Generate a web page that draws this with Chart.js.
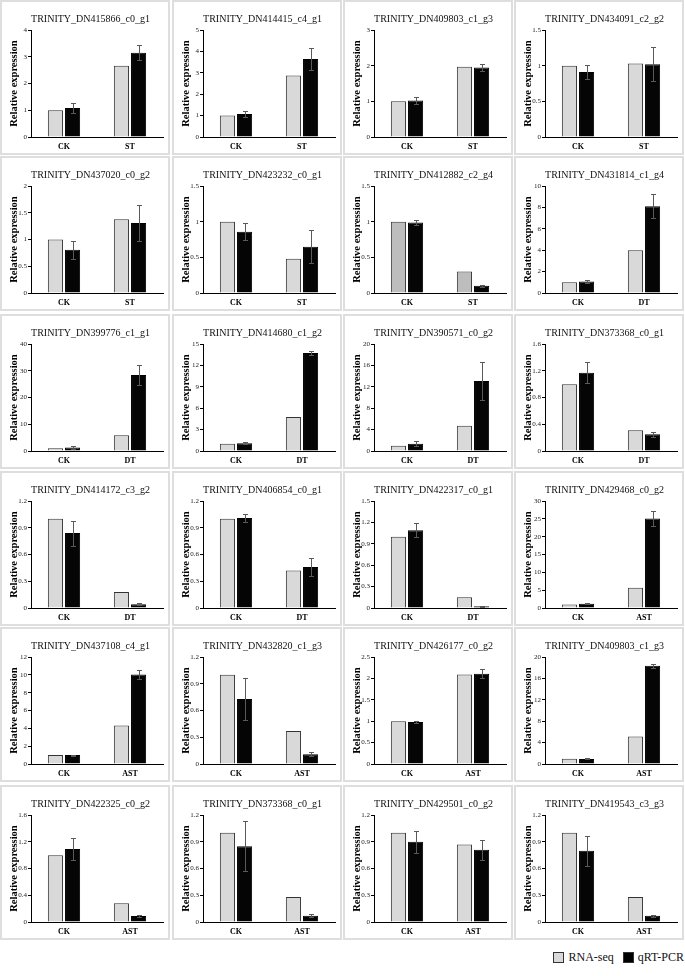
<!DOCTYPE html>
<html>
<head>
<meta charset="utf-8">
<script src="https://cdn.jsdelivr.net/npm/chart.js@4.4.0/dist/chart.umd.min.js"></script>
<style>
body { margin: 0; background: #fff; width: 685px; height: 976px; position: relative; font-family: "Liberation Serif", serif; }
.panel { position: absolute; width: 170px; height: 155px; box-sizing: border-box; border: 2px solid #dedede; }
.panel canvas { display: block; }
.legend { position: absolute; top: 950px; right: 1px; display: flex; align-items: center; font-size: 12px; color: #111; }
.legend span.box { display: inline-block; width: 9px; height: 9px; border: 1px solid #333; margin-right: 4px; }
.legend span.txt { margin-right: 9px; }
</style>
</head>
<body>
<div class="legend">
  <span class="box" style="background:#d9d9d9"></span><span class="txt">RNA-seq</span>
  <span class="box" style="background:#000"></span><span class="txt" style="margin-right:0">qRT-PCR</span>
</div>
<script>
const titles = [
  "TRINITY_DN415866_c0_g1", "TRINITY_DN414415_c4_g1", "TRINITY_DN409803_c1_g3", "TRINITY_DN434091_c2_g2",
  "TRINITY_DN437020_c0_g2", "TRINITY_DN423232_c0_g1", "TRINITY_DN412882_c2_g4", "TRINITY_DN431814_c1_g4",
  "TRINITY_DN399776_c1_g1", "TRINITY_DN414680_c1_g2", "TRINITY_DN390571_c0_g2", "TRINITY_DN373368_c0_g1",
  "TRINITY_DN414172_c3_g2", "TRINITY_DN406854_c0_g1", "TRINITY_DN422317_c0_g1", "TRINITY_DN429468_c0_g2",
  "TRINITY_DN437108_c4_g1", "TRINITY_DN432820_c1_g3", "TRINITY_DN426177_c0_g2", "TRINITY_DN409803_c1_g3",
  "TRINITY_DN422325_c0_g2", "TRINITY_DN373368_c0_g1", "TRINITY_DN429501_c0_g2", "TRINITY_DN419543_c3_g3"
];
const treatments = [
  "ST", "ST", "ST", "ST", "ST", "ST", "ST", "DT",
  "DT", "DT", "DT", "DT", "DT", "DT", "DT", "AST",
  "AST", "AST", "AST", "AST", "AST", "AST", "AST", "AST"
];
const yMax  = [4, 5, 3, 1.5, 2, 1.5, 1.5, 10, 40, 15, 20, 1.6, 1.2, 1.2, 1.5, 30, 12, 1.2, 2.5, 20, 1.6, 1.2, 1.2, 1.2];
const yStep = [1, 1, 1, 0.5, 0.5, 0.5, 0.5, 1, 10, 3, 4, 0.4, 0.3, 0.3, 0.3, 5, 2, 0.3, 0.5, 4, 0.4, 0.3, 0.3, 0.3];

// [CK, treatment]
const rnaSeq = [
  [1, 2.66], [1, 2.87], [1, 1.97], [1, 1.03], [1, 1.38], [1, 0.48], [1, 0.30], [1, 4.0],
  [1, 5.9], [1, 4.76], [1, 4.74], [1, 0.31], [1, 0.18], [1, 0.42], [1, 0.15], [1, 5.7],
  [1, 4.32], [1, 0.37], [1, 2.09], [1, 5.14], [1, 0.28], [1, 0.28], [1, 0.87], [1, 0.28]
];
const qpcr = [
  [1.08, 3.15], [1.08, 3.65], [1.02, 1.95], [0.91, 1.02], [0.81, 1.31], [0.86, 0.65], [0.99, 0.10], [1.08, 8.1],
  [1.3, 28.4], [1.1, 13.75], [1.35, 13.1], [1.17, 0.25], [0.84, 0.043], [1.01, 0.46], [1.09, 0.025], [1.2, 25.1],
  [1.0, 10.05], [0.73, 0.11], [0.98, 2.11], [0.95, 18.35], [1.09, 0.09], [0.85, 0.07], [0.9, 0.81], [0.8, 0.07]
];
const qpcrErr = [
  [0.19, 0.29], [0.15, 0.5], [0.09, 0.1], [0.1, 0.24], [0.17, 0.33], [0.12, 0.23], [0.04, 0.01], [0.15, 1.12],
  [0.4, 3.9], [0.1, 0.33], [0.45, 3.6], [0.16, 0.04], [0.14, 0.01], [0.045, 0.1], [0.1, 0.01], [0.2, 2.2],
  [0.05, 0.5], [0.235, 0.02], [0.02, 0.11], [0.1, 0.35], [0.17, 0.01], [0.28, 0.015], [0.125, 0.11], [0.17, 0.01]
];

const SERIF = "'Liberation Serif', 'Times New Roman', serif";
const colX = [0, 172, 343, 514];
const rowY = [0, 156, 314, 471, 627, 785];
const darkRna = [6]; // panel with darker RNA-seq bars

const errorBars = {
  id: 'errorBars',
  afterDatasetsDraw(chart) {
    const ds = chart.data.datasets[1];
    const meta = chart.getDatasetMeta(1);
    const y = chart.scales.y;
    const ctx = chart.ctx;
    ctx.save();
    ctx.strokeStyle = '#5a5a5a';
    ctx.lineWidth = 1;
    meta.data.forEach((bar, j) => {
      const v = ds.data[j], e = ds.errors[j];
      const top = Math.round(y.getPixelForValue(v + e)) + 0.5;
      const bot = Math.round(y.getPixelForValue(Math.max(0, v - e))) + 0.5;
      const x = Math.round(bar.x) + 0.5;
      ctx.beginPath();
      ctx.moveTo(x, top); ctx.lineTo(x, bot);
      ctx.moveTo(x - 2.5, top); ctx.lineTo(x + 2.5, top);
      ctx.moveTo(x - 2.5, bot); ctx.lineTo(x + 2.5, bot);
      ctx.stroke();
    });
    ctx.restore();
  }
};

for (let i = 0; i < titles.length; i++) {
  const div = document.createElement('div');
  div.className = 'panel';
  div.style.left = colX[i % 4] + 'px';
  div.style.top = rowY[Math.floor(i / 4)] + 'px';
  const cv = document.createElement('canvas');
  cv.width = 166; cv.height = 151;
  div.appendChild(cv);
  document.body.appendChild(div);

  new Chart(cv, {
    type: 'bar',
    data: {
      labels: ['CK', treatments[i]],
      datasets: [{
        label: 'RNA-seq',
        data: rnaSeq[i],
        backgroundColor: darkRna.includes(i) ? '#bdbdbd' : '#d9d9d9',
        borderColor: '#333',
        borderWidth: 1
      }, {
        label: 'qRT-PCR',
        data: qpcr[i],
        errors: qpcrErr[i],
        backgroundColor: '#050505',
        borderColor: '#000',
        borderWidth: 1
      }]
    },
    options: {
      responsive: false,
      animation: false,
      categoryPercentage: 0.52,
      barPercentage: 0.88,
      layout: { padding: { left: 16, right: 5, bottom: 2 } },
      plugins: {
        legend: { display: false },
        tooltip: { enabled: false },
        title: {
          display: true,
          text: titles[i],
          color: '#111',
          font: { family: SERIF, size: 10, weight: 'normal' },
          padding: { top: 11, bottom: 5 }
        }
      },
      scales: {
        x: {
          grid: { display: false, drawTicks: false },
          border: { color: '#000', width: 1 },
          ticks: { color: '#000', font: { family: SERIF, size: 8, weight: 'bold' }, padding: 5 },
          afterFit: s => { s.height = 14; }
        },
        y: {
          min: 0,
          max: yMax[i],
          grid: { drawOnChartArea: false, tickLength: 3, color: '#000' },
          border: { color: '#000', width: 1 },
          ticks: {
            stepSize: yStep[i],
            color: '#222',
            font: { family: SERIF, size: 7 },
            padding: 1,
            callback: v => String(+v.toFixed(2))
          },
          title: {
            display: true,
            text: 'Relative expression',
            color: '#000',
            font: { family: SERIF, size: 10.5, weight: 'bold' },
            padding: { top: -10, bottom: 0 }
          },
          afterFit: s => { s.width = 13; }
        }
      }
    },
    plugins: [errorBars]
  });
}
</script>
</body>
</html>
